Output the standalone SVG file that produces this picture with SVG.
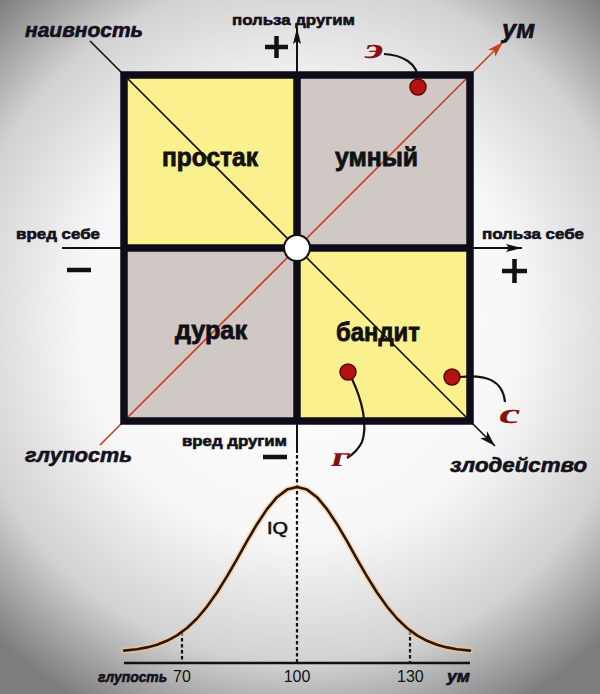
<svg xmlns="http://www.w3.org/2000/svg" width="600" height="694" viewBox="0 0 600 694">
<defs>
<radialGradient id="bg" cx="300" cy="320" r="440" gradientUnits="userSpaceOnUse">
<stop offset="0" stop-color="#ffffff"/>
<stop offset="0.5" stop-color="#f7f7f7"/>
<stop offset="0.78" stop-color="#d2d2d2"/>
<stop offset="1" stop-color="#7d7d7d"/>
</radialGradient>
<marker id="ahBlack" viewBox="0 0 16 10" refX="16" refY="5" markerWidth="16" markerHeight="10" markerUnits="userSpaceOnUse" orient="auto">
<path d="M0,0 L16,5 L0,10 L4,5 Z" fill="#111"/>
</marker>
<marker id="ahOrange" viewBox="0 0 16 10" refX="16" refY="5" markerWidth="16" markerHeight="10" markerUnits="userSpaceOnUse" orient="auto">
<path d="M0,0 L16,5 L0,10 L4,5 Z" fill="#c8401a"/>
</marker>
<marker id="ahAxis" viewBox="0 0 16 8" refX="16" refY="4" markerWidth="16" markerHeight="8" markerUnits="userSpaceOnUse" orient="auto">
<path d="M0,0 L16,4 L0,8 L3,4 Z" fill="#111"/>
</marker>
</defs>
<style>
.lbl{font-family:"Liberation Sans",Arial,sans-serif;font-weight:bold;fill:#14101c;stroke:#14101c;stroke-width:0.6;}
.it{font-style:italic;}
.quad{font-family:"Liberation Sans",Arial,sans-serif;font-weight:bold;font-size:25px;fill:#111;stroke:#111;stroke-width:0.8;}
.pt{font-family:"Liberation Serif","Times New Roman",serif;font-weight:bold;font-size:28px;fill:#8a1010;}
.num{font-family:"Liberation Sans",Arial,sans-serif;font-size:16px;fill:#111;}
.yel{fill:#fbf08e;}
.gry{fill:#d0c8c4;}
.frame{fill:none;stroke:#0f0c1a;stroke-width:7.5;}
.dot{fill:#b51212;stroke:#5a0505;stroke-width:1.5;}
.lead{fill:none;stroke:#1a1010;stroke-width:2.2;}
.axis{stroke:#111;stroke-width:2;fill:none;}
.dash{stroke:#111;stroke-width:2.2;stroke-dasharray:3.5,2.5;fill:none;}
.sign{stroke:#111;stroke-width:4.5;fill:none;}
</style>
<rect width="600" height="694" fill="url(#bg)"/>

<g id="quadrants">
<rect id="q-prostak" class="yel" x="124" y="75" width="173" height="173"/>
<rect id="q-umny" class="gry" x="297" y="75" width="173" height="173"/>
<rect id="q-durak" class="gry" x="124" y="248" width="173" height="173"/>
<rect id="q-bandit" class="yel" x="297" y="248" width="173" height="173"/>
</g>

<g id="connectors">
<line class="axis" x1="297" y1="248" x2="297" y2="28" marker-end="url(#ahAxis)"/>
<line class="axis" x1="62" y1="248" x2="522" y2="248" marker-end="url(#ahAxis)"/>
<line class="axis" x1="297" y1="421" x2="297" y2="453"/>
<line class="dash" x1="297" y1="455" x2="297" y2="663"/>
<line x1="90" y1="41" x2="495" y2="446" stroke="#111" stroke-width="1.6" marker-end="url(#ahBlack)"/>
<line x1="100" y1="445" x2="503" y2="42" stroke="#c8401a" stroke-width="1.6" marker-end="url(#ahOrange)"/>
<path class="lead" d="M384,54 C402,55 418,63 418,80"/>
<path class="lead" d="M352,379 C362,400 368,425 362,442 C358,450 352,455 347,458"/>
<path class="lead" d="M460,377 C485,374 503,380 505,402"/>
</g>

<g id="frame">
<rect class="frame" x="124" y="75" width="346" height="346"/>
<line x1="297" y1="75" x2="297" y2="421" stroke="#0f0c1a" stroke-width="7.5"/>
<line x1="124" y1="248" x2="470" y2="248" stroke="#0f0c1a" stroke-width="7.5"/>
</g>

<g id="center">
<circle cx="297" cy="248" r="13" fill="#fff" stroke="#111" stroke-width="2"/>
</g>

<g id="quad-labels">
<text class="quad" x="162" y="166" textLength="96" lengthAdjust="spacingAndGlyphs">простак</text>
<text class="quad" x="335" y="166" textLength="83" lengthAdjust="spacingAndGlyphs">умный</text>
<text class="quad" x="175" y="339" textLength="72" lengthAdjust="spacingAndGlyphs">дурак</text>
<text class="quad" x="336" y="341" textLength="84" lengthAdjust="spacingAndGlyphs">бандит</text>
</g>

<g id="point-e">
<circle class="dot" cx="418" cy="87" r="8"/>
<text class="pt" transform="translate(363,58) skewX(-14)" textLength="19" lengthAdjust="spacingAndGlyphs">э</text>
</g>
<g id="point-g">
<circle class="dot" cx="348" cy="372" r="8"/>
<text class="pt" transform="translate(330,466) skewX(-14)" textLength="18" lengthAdjust="spacingAndGlyphs">г</text>
</g>
<g id="point-s">
<circle class="dot" cx="452" cy="377" r="8"/>
<text class="pt" transform="translate(497,423) skewX(-14)" textLength="21" lengthAdjust="spacingAndGlyphs">с</text>
</g>

<g id="axis-labels">
<text class="lbl" x="232" y="25" font-size="15" textLength="123" lengthAdjust="spacingAndGlyphs">польза другим</text>
<text class="lbl" x="16" y="239" font-size="15" textLength="84" lengthAdjust="spacingAndGlyphs">вред себе</text>
<text class="lbl" x="482" y="239" font-size="15" textLength="102" lengthAdjust="spacingAndGlyphs">польза себе</text>
<text class="lbl" x="182" y="446" font-size="15" textLength="105" lengthAdjust="spacingAndGlyphs">вред другим</text>
<text class="lbl it" x="25" y="37" font-size="20" textLength="118" lengthAdjust="spacingAndGlyphs">наивность</text>
<text class="lbl it" x="502" y="38" font-size="26" textLength="33" lengthAdjust="spacingAndGlyphs">ум</text>
<text class="lbl it" x="25" y="462" font-size="21" textLength="107" lengthAdjust="spacingAndGlyphs">глупость</text>
<text class="lbl it" x="450" y="472" font-size="21" textLength="137" lengthAdjust="spacingAndGlyphs">злодейство</text>
<path class="sign" d="M265,47 H288 M276.5,36 V58"/>
<path class="sign" d="M502,271 H527 M514.5,259 V283"/>
<path class="sign" d="M67,270 H91"/>
<path class="sign" d="M263,457 H287"/>
</g>

<g id="iq-curve">
<line x1="124" y1="663" x2="470" y2="663" stroke="#111" stroke-width="2.5"/>
<line class="dash" x1="182" y1="632" x2="182" y2="663"/>
<line class="dash" x1="410" y1="631" x2="410" y2="663"/>
<polyline fill="none" stroke="#f3c98a" stroke-opacity="0.6" stroke-width="6" stroke-linejoin="round" stroke-linecap="round" points="124,650.6 137,649.2 147,647.4 157,644.8 167,640.8 177,635.4 187,628 197,618.5 207,606.6 217,592.5 227,576.4 237,559.1 247,541.2 257,524.2 267,509.1 277,497.2 287,489.6 297,487 307,489.6 317,497.2 327,509.1 337,524.2 347,541.2 357,559.1 367,576.4 377,592.5 387,606.6 397,618.5 407,628 417,635.4 427,640.8 437,644.8 447,647.4 457,649.2 470,650.6"/>
<polyline fill="none" stroke="#2e130c" stroke-width="2.6" stroke-linejoin="round" stroke-linecap="round" points="124,650.6 137,649.2 147,647.4 157,644.8 167,640.8 177,635.4 187,628 197,618.5 207,606.6 217,592.5 227,576.4 237,559.1 247,541.2 257,524.2 267,509.1 277,497.2 287,489.6 297,487 307,489.6 317,497.2 327,509.1 337,524.2 347,541.2 357,559.1 367,576.4 377,592.5 387,606.6 397,618.5 407,628 417,635.4 427,640.8 437,644.8 447,647.4 457,649.2 470,650.6"/>
<text class="num" x="267" y="534" font-size="21" stroke="#111" stroke-width="0.6" textLength="21" lengthAdjust="spacingAndGlyphs">IQ</text>
<text class="lbl it" x="98" y="682" font-size="14" textLength="69" lengthAdjust="spacingAndGlyphs">глупость</text>
<text class="num" x="173" y="682">70</text>
<text class="num" x="297" y="682" text-anchor="middle">100</text>
<text class="num" x="397" y="682">130</text>
<text class="lbl it" x="447" y="682" font-size="16" textLength="23" lengthAdjust="spacingAndGlyphs">ум</text>
</g>
</svg>
